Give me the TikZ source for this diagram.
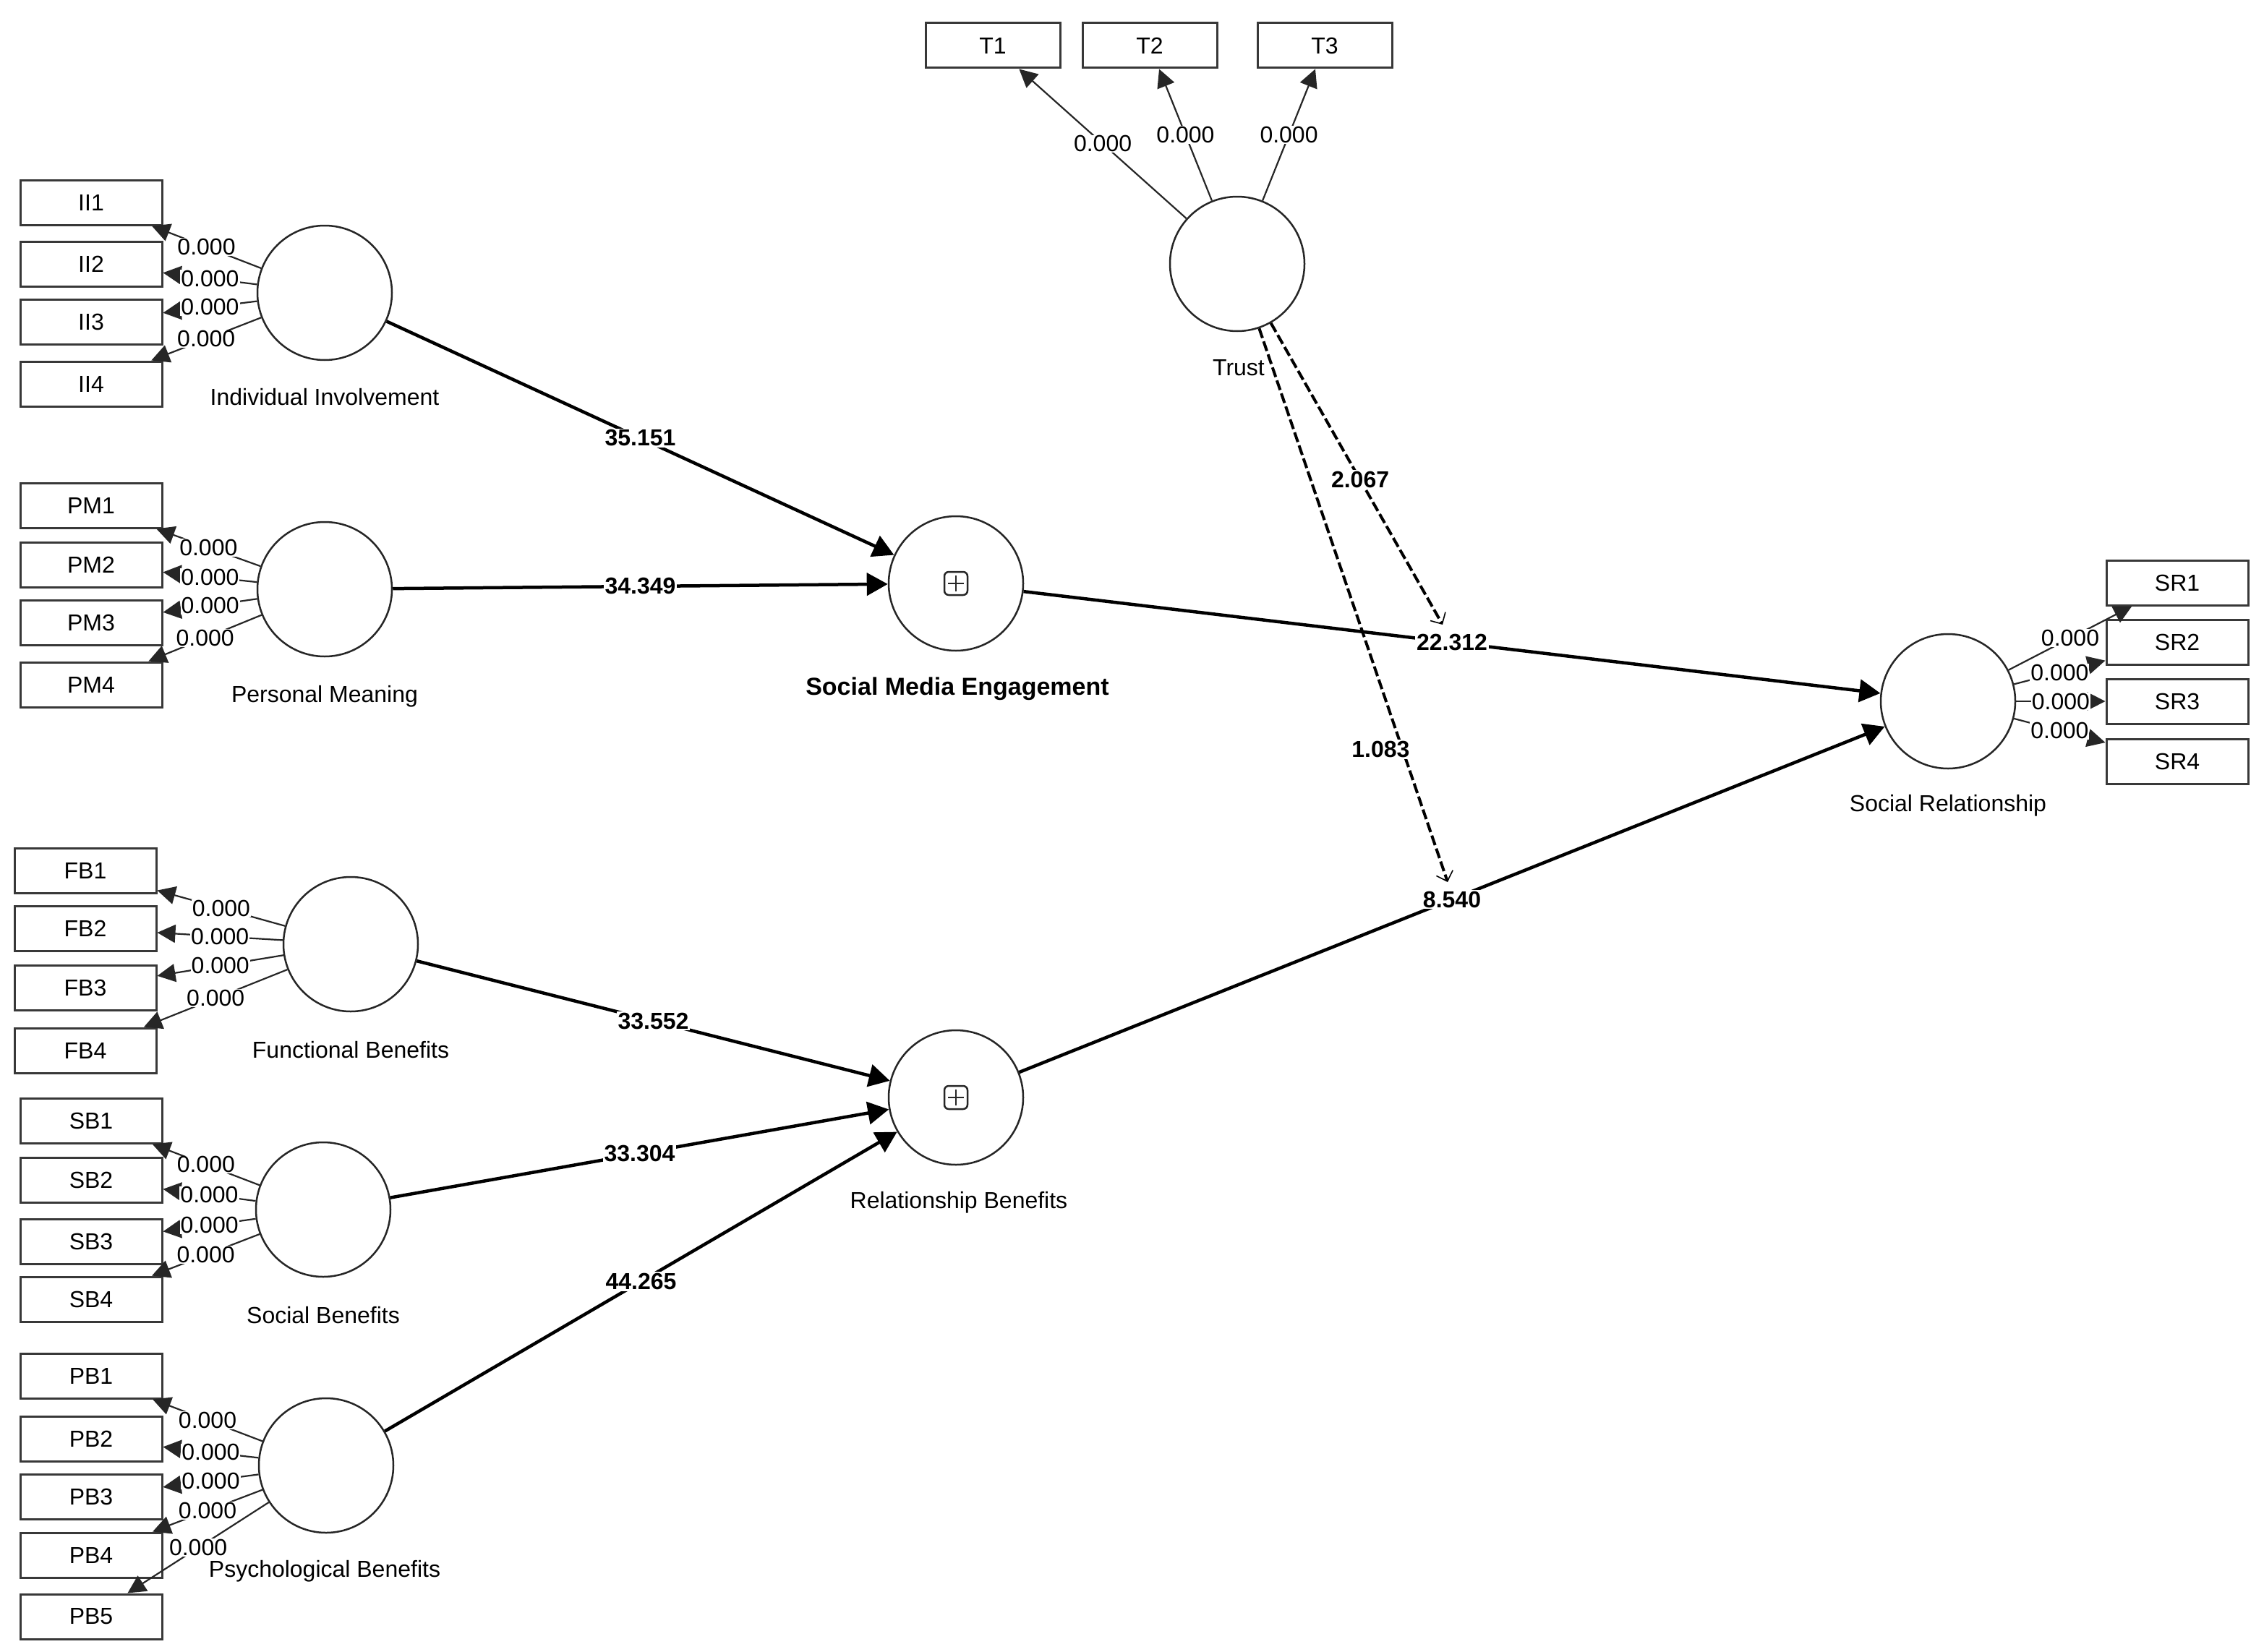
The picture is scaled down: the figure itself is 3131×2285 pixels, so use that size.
\documentclass[tikz,border=0pt]{standalone}
\usepackage{fontspec}
\setmainfont{Liberation Sans}
\usetikzlibrary{arrows.meta}
\begin{document}
\begin{tikzpicture}[x=1pt,y=-1pt,
  txt/.style={font=\fontsize{32}{38}\selectfont, text=black},
  ind/.style={txt, draw=black!78, line width=3pt, fill=white, minimum width=196pt, minimum height=62pt, inner sep=0pt},
  tind/.style={ind, minimum width=186pt},
  lv/.style={circle, draw=black!85, line width=2.5pt, fill=white, minimum size=186pt, inner sep=0pt},
  lvname/.style={txt, inner sep=0pt},
  plusbox/.style={draw=black!85, line width=2.5pt, rounded corners=6pt, minimum size=32pt, inner sep=0pt,
    path picture={\draw[line width=2.5pt, black!85] (path picture bounding box.center) ++(0,-11) -- ++(0,22)
      (path picture bounding box.center) ++(-11,0) -- ++(22,0);}},
  load/.style={line width=2.2pt, draw=black!85, -{Triangle[length=25pt,width=25pt]}},
  lbl/.style={txt, fill=white, inner sep=1pt},
  struct/.style={line width=4.5pt, draw=black, -{Triangle[length=29pt,width=31pt]}},
  coef/.style={font=\bfseries\fontsize{32}{38}\selectfont, text=black, fill=white, inner sep=2pt},
  moder/.style={line width=4pt, draw=black, dash pattern=on 14pt off 5pt, -{Straight Barb[length=12pt,width=24pt,line width=1.6pt]}},
]
\useasboundingbox (0,0) rectangle (3131,2285);
\fill[white] (0,0) rectangle (3131,2285);

% construct names
\node[lvname] (nII) at (449,549) {Individual Involvement};
\node[lvname] (nPM) at (449,963) {Personal Meaning};
\node[lvname] (nFB) at (485,1452) {Functional Benefits};
\node[lvname] (nSB) at (447,1819) {Social Benefits};
\node[lvname] (nPB) at (449,2173) {Psychological Benefits};
\node[font=\bfseries\fontsize{34}{40}\selectfont, inner sep=0pt] (nSME) at (1324,953) {Social Media Engagement};
\node[lvname] (nRB) at (1326,1663) {Relationship Benefits};
\node[lvname] (nT) at (1713,509) {Trust};
\node[lvname] (nSR) at (2694,1114) {Social Relationship};

% latent variables
\node[lv] (II) at (449,405) {};
\node[lv] (PM) at (449,815) {};
\node[lv] (FB) at (485,1306) {};
\node[lv] (SB) at (447,1673) {};
\node[lv] (PB) at (451,2027) {};
\node[lv] (SME) at (1322,807) {};
\node[lv] (RB) at (1322,1518) {};
\node[lv] (T) at (1711,365) {};
\node[lv] (SR) at (2694,970) {};
\node[plusbox] (pSME) at (SME) {};
\node[plusbox] (pRB) at (RB) {};

% indicators
\foreach \i/\y in {1/280,2/365,3/445,4/531} \node[ind] (II\i) at (126,\y) {II\i};
\foreach \i/\y in {1/699,2/781,3/861,4/947} \node[ind] (PM\i) at (126,\y) {PM\i};
\foreach \i/\y in {1/1204,2/1284,3/1366,4/1453} \node[ind] (FB\i) at (118,\y) {FB\i};
\foreach \i/\y in {1/1550,2/1632,3/1717,4/1797} \node[ind] (SB\i) at (126,\y) {SB\i};
\foreach \i/\y in {1/1903,2/1990,3/2070,4/2151,5/2236} \node[ind] (PB\i) at (126,\y) {PB\i};
\foreach \i/\y in {1/806,2/888,3/970,4/1053} \node[ind] (SR\i) at (3011,\y) {SR\i};
\foreach \i/\x in {1/1373,2/1590,3/1832} \node[tind] (T\i) at (\x,63) {T\i};

% outer loadings
\foreach \i in {1,...,4} \draw[load] (II) -- node[lbl]{0.000} (II\i);
\foreach \i in {1,...,4} \draw[load] (PM) -- node[lbl]{0.000} (PM\i);
\foreach \i in {1,...,4} \draw[load] (FB) -- node[lbl]{0.000} (FB\i);
\foreach \i in {1,...,4} \draw[load] (SB) -- node[lbl]{0.000} (SB\i);
\foreach \i in {1,...,5} \draw[load] (PB) -- node[lbl]{0.000} (PB\i);
\foreach \i in {1,...,4} \draw[load] (SR) -- node[lbl]{0.000} (SR\i);
\foreach \i in {1,...,3} \draw[load] (T) -- node[lbl]{0.000} (T\i);

% structural paths
\draw[struct] (II) -- node[coef]{35.151} (SME);
\draw[struct] (PM) -- node[coef]{34.349} (SME);
\draw[struct] (FB) -- node[coef]{33.552} (RB);
\draw[struct] (SB) -- node[coef]{33.304} (RB);
\draw[struct] (PB) -- node[coef]{44.265} (RB);
\draw[struct] (SME) -- node[coef]{22.312} (SR);
\draw[struct] (RB) -- node[coef]{8.540} (SR);

% moderating effects
\coordinate (m1) at (1995,864);
\coordinate (m2) at (2002,1220);
\draw[moder] (T) -- node[coef, pos=0.52]{2.067} (m1);
\draw[moder] (T) -- node[coef, pos=0.76, xshift=-30pt]{1.083} (m2);
\end{tikzpicture}
\end{document}
